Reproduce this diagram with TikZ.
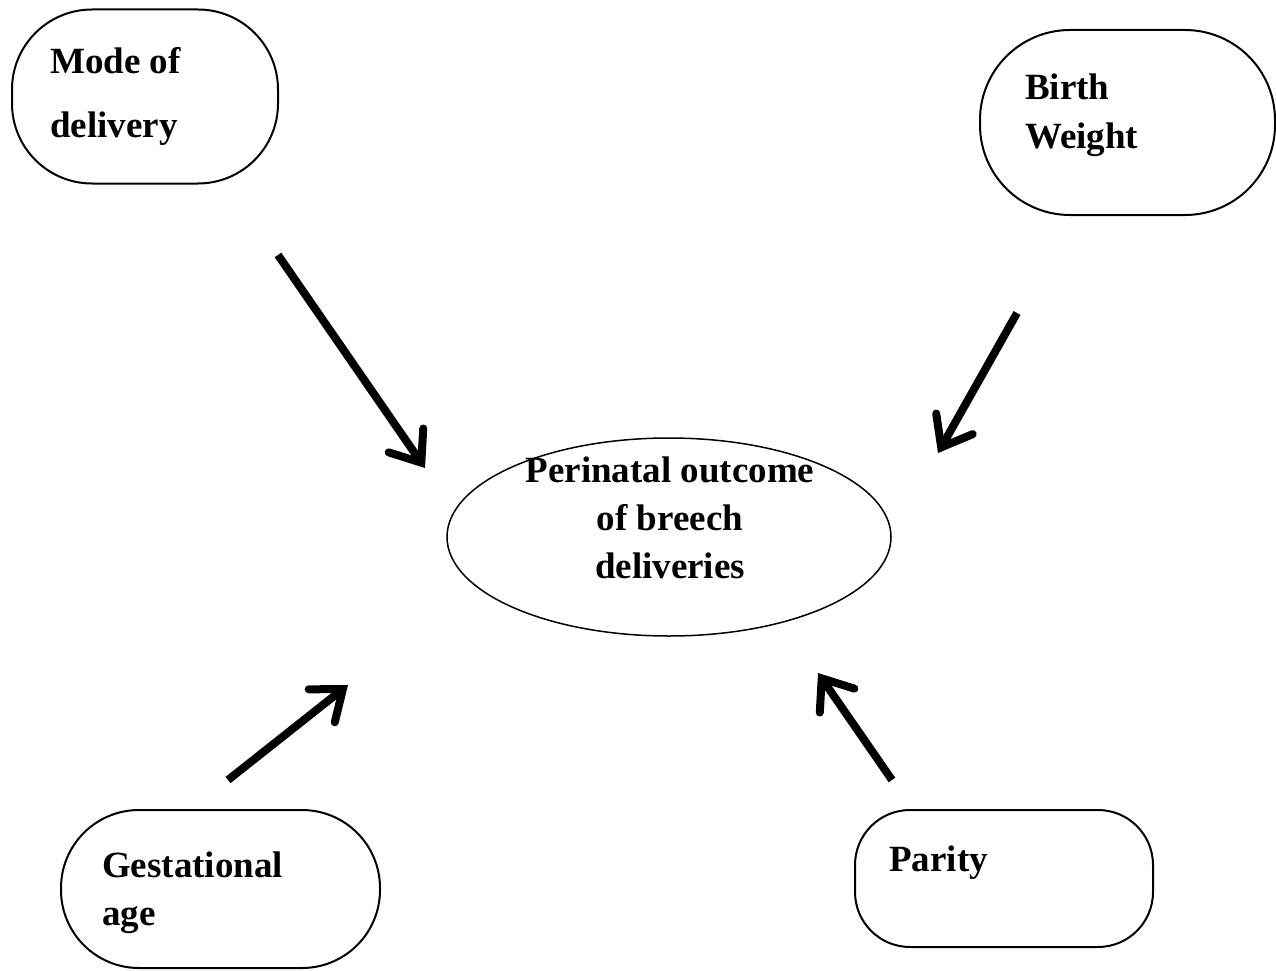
\documentclass[tikz,border=0pt]{standalone}
\usepackage{fontspec}
\setmainfont{Liberation Serif}
\usetikzlibrary{arrows.meta,shapes.geometric}
\tikzset{
  box/.style={draw=black, line width=2pt, inner sep=0pt},
  lbl/.style={inner sep=0pt, align=left, font=\bfseries\fontsize{37}{48}\selectfont},
  bigarrow/.style={line width=8pt, -{Straight Barb[length=27pt,width=42pt,line cap=round]}},
}
\begin{document}
\begin{tikzpicture}[x=1pt,y=-1pt]
\useasboundingbox (0,0) rectangle (1276,971);
% boxes
\node[box, minimum width=266pt, minimum height=174pt, rounded corners=80pt] (mode) at (145,96.5) {};
\node[box, minimum width=295pt, minimum height=185pt, rounded corners=90pt] (birth) at (1127.5,122.5) {};
\node[box, minimum width=319pt, minimum height=158pt, rounded corners=78pt] (gest) at (220.5,889) {};
\node[box, minimum width=298pt, minimum height=137pt, rounded corners=55pt] (parity) at (1004,878.5) {};
\node[draw=black, line width=1.5pt, ellipse, minimum width=444pt, minimum height=198pt, inner sep=0pt] (outcome) at (669,537) {};
% labels (base anchor = baseline of last line)
\node[lbl, anchor=base west, font=\bfseries\fontsize{37}{64}\selectfont] (modet) at (50,138) {Mode of\\delivery};
\node[lbl, anchor=base west] (birtht) at (1025,148) {Birth\\Weight};
\node[lbl, anchor=base west] (gestt) at (102,925) {Gestational\\age};
\node[lbl, anchor=base west] (parityt) at (889,871) {Parity};
\node[lbl, align=center, anchor=base] (outcomet) at (670,578) {Perinatal outcome\\of breech\\deliveries};
% arrows (free-floating)
\coordinate (a1s) at (278,255); \coordinate (a1e) at (425,468);
\coordinate (a2s) at (1017,313); \coordinate (a2e) at (938,453);
\coordinate (a3s) at (228,780); \coordinate (a3e) at (348,685);
\coordinate (a4s) at (892,780); \coordinate (a4e) at (818,673);
\draw[bigarrow] (a1s) -- (a1e);
\draw[bigarrow] (a2s) -- (a2e);
\draw[bigarrow] (a3s) -- (a3e);
\draw[bigarrow] (a4s) -- (a4e);
\end{tikzpicture}
\end{document}
